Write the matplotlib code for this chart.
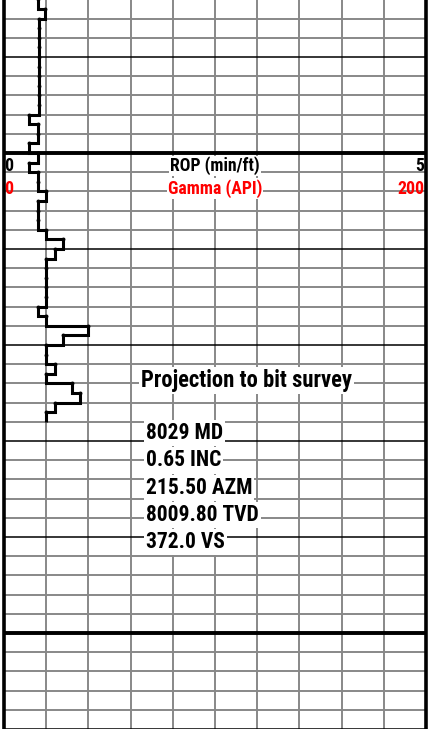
import numpy as np
import matplotlib.pyplot as plt

plt.rcParams['font.family'] = ['Roboto Condensed', 'Liberation Sans', 'DejaVu Sans']

# ROP log, one value per foot (min/ft), edges in ft MD
depth_edges = np.arange(7980, 8029)
rop = [0.4, 0.4, 0.4, 0.4, 0.4, 0.48, 0.41, 0.41, 0.41, 0.41,
       0.41, 0.41, 0.41, 0.41, 0.41, 0.41, 0.3, 0.4, 0.4, 0.3,
       0.4, 0.3, 0.4, 0.4, 0.5, 0.4, 0.4, 0.4, 0.5, 0.7,
       0.6, 0.5, 0.5, 0.5, 0.5, 0.5, 0.4, 0.5, 1.0, 0.7,
       0.5, 0.5, 0.6, 0.5, 0.8, 0.9, 0.6, 0.5]

rop_range = (0, 5)
gamma_range = (0, 200)
depth_top, depth_bottom = 7984.06, 8060.0

survey_title = "Projection to bit survey"
survey_lines = ["8029 MD", "0.65 INC", "215.50 AZM", "8009.80 TVD", "372.0 VS"]

GRID = "#888888"

fig = plt.figure(figsize=(4.28, 7.29), dpi=100)
ax = fig.add_axes([4 / 428, 0, 422 / 428, 1])
ax.set_xlim(*rop_range)
ax.set_ylim(depth_bottom, depth_top)
ax.set_xticks([])
ax.set_yticks([])
for side in ["top", "bottom"]:
    ax.spines[side].set_visible(False)
for side in ["left", "right"]:
    ax.spines[side].set_linewidth(2.6)
    ax.spines[side].set_zorder(6)

# grid: vertical every 0.5 min/ft, horizontal every 2 ft, heavier every 10 and 50 ft
for x in np.arange(0.5, 5.0, 0.5):
    ax.axvline(x, color=GRID, lw=1.4, zorder=1)
for d in np.arange(7984, 8062, 2):
    if d % 50 == 0:
        ax.axhline(d, color="black", lw=2.8, zorder=2)
    elif d % 10 == 0:
        ax.axhline(d, color="black", lw=1.1, zorder=2)
    else:
        ax.axhline(d, color=GRID, lw=1.4, zorder=1)

# ROP curve
ax.stairs(rop, depth_edges, orientation="horizontal", baseline=None,
          color="black", lw=2.2, zorder=4)
ax.plot(rop, depth_edges[:-1], ls="none", marker="o", ms=1.8, color="black", zorder=4)

# track header
box = dict(facecolor="white", edgecolor="none", pad=0.5)
hdr = dict(fontsize=12.8, fontweight="bold", va="center", zorder=5)
ax.text(0.0, 8001.35, f"{rop_range[0]}", ha="left", color="black", **hdr)
ax.text(2.5, 8001.35, "ROP (min/ft)", ha="center", color="black", bbox=box, **hdr)
ax.text(4.98, 8001.35, f"{rop_range[1]}", ha="right", color="black", **hdr)
ax.text(0.0, 8003.7, f"{gamma_range[0]}", ha="left", color="red", **hdr)
ax.text(2.5, 8003.7, "Gamma (API)", ha="center", color="red", bbox=box, **hdr)
ax.text(4.98, 8003.7, f"{gamma_range[1]}", ha="right", color="red", **hdr)

# survey annotation
ann = dict(fontweight="bold", va="center", ha="left", zorder=5,
           bbox=dict(facecolor="white", edgecolor="none", pad=1.5))
ax.text(1.62, 8023.65, survey_title, fontsize=16.3, **ann)
for i, line in enumerate(survey_lines):
    ax.text(1.68, 8029.2 + i * 2.83, line, fontsize=15.5, **ann)

fig.savefig("out.png", dpi=100)
